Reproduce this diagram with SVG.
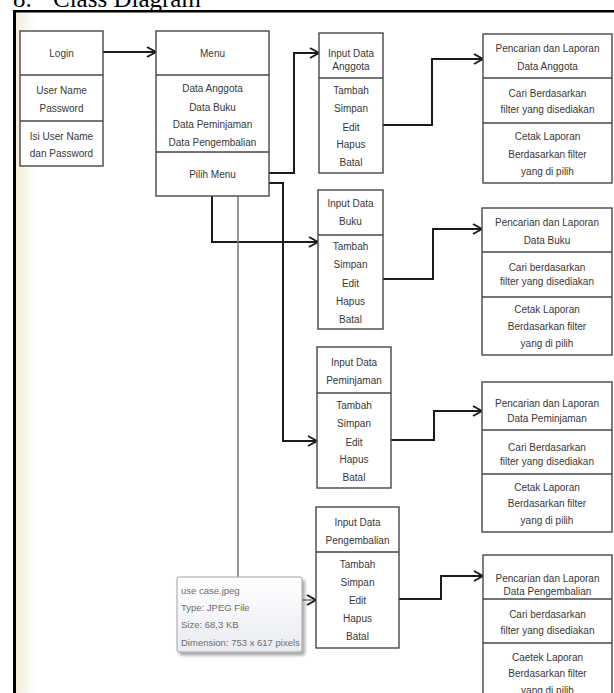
<svg xmlns="http://www.w3.org/2000/svg" width="614" height="693" viewBox="0 0 614 693">
  <defs>
    <style>
      .box { fill: #ffffff; stroke: #474747; stroke-width: 1.4; }
      .div { stroke: #474747; stroke-width: 1.4; }
      .t { font-family: "Liberation Sans", Arial, sans-serif; font-size: 10px; fill: #383838; text-anchor: middle; }
      .tip { font-family: "Liberation Sans", Arial, sans-serif; font-size: 9.5px; fill: #6e6e6e; }
      .title { font-family: "Liberation Serif", "Times New Roman", serif; font-size: 25px; fill: #000000; }
      .c { fill: none; stroke: #1c1c1c; stroke-width: 2; marker-end: url(#arr); }
      .c.gray { stroke: #808080; stroke-width: 1.6; }
    </style>
    <marker id="arr" markerUnits="userSpaceOnUse" markerWidth="12" markerHeight="12" refX="10" refY="6" orient="auto">
      <path d="M1,1 L10,6 L1,11" fill="none" stroke="#1c1c1c" stroke-width="2"/>
    </marker>
    <linearGradient id="cream" x1="0" y1="0" x2="1" y2="0">
      <stop offset="0" stop-color="#f4eed8"/>
      <stop offset="1" stop-color="#ffffff"/>
    </linearGradient>
    <linearGradient id="tipFill" x1="0" y1="0" x2="0" y2="1">
      <stop offset="0" stop-color="#ffffff"/>
      <stop offset="1" stop-color="#e8ebf1"/>
    </linearGradient>
    <filter id="shadow" x="-10%" y="-10%" width="130%" height="140%">
      <feDropShadow dx="2.5" dy="3" stdDeviation="1.6" flood-color="#000000" flood-opacity="0.35"/>
    </filter>
  </defs>

  <rect x="0" y="0" width="614" height="693" fill="#ffffff"/>

  <!-- heading, clipped by the page top -->
  <text class="title" x="13" y="7">8.</text>
  <text class="title" x="53" y="7">Class Diagram</text>

  <!-- page frame with its warm left margin -->
  <rect x="16" y="12" width="20" height="681" fill="url(#cream)"/>
  <line x1="13" y1="11.3" x2="614" y2="11.3" stroke="#000" stroke-width="2.6"/>
  <line x1="14.5" y1="10" x2="14.5" y2="693" stroke="#000" stroke-width="3"/>

  <!-- connectors -->
  <g id="connectors">
    <path class="c" d="M103,52 H156"/>
    <path class="c" d="M269,173 H294 V53 H319"/>
    <path class="c" d="M212,196 V242 H318"/>
    <path class="c" d="M269,183 H283 V441 H317"/>
    <path class="c gray" d="M238,196 V600 H316"/>
    <path class="c" d="M383,125 H432 V59 H483"/>
    <path class="c" d="M383,279 H433 V229 H482"/>
    <path class="c" d="M391,440 H434 V411 H482"/>
    <path class="c" d="M399,599 H441 V576 H483"/>
  </g>

  <g id="login">
    <rect class="box" x="20" y="31" width="83" height="135"/>
    <line class="div" x1="20" y1="75" x2="103" y2="75"/>
    <line class="div" x1="20" y1="121" x2="103" y2="121"/>
    <text class="t" x="61.5" y="56.5">Login</text>
    <text class="t" x="61.5" y="93.5">User Name</text>
    <text class="t" x="61.5" y="111.5">Password</text>
    <text class="t" x="61.5" y="139.5">Isi User Name</text>
    <text class="t" x="61.5" y="156.5">dan Password</text>
  </g>

  <g id="menu">
    <rect class="box" x="156" y="31" width="113" height="165"/>
    <line class="div" x1="156" y1="75" x2="269" y2="75"/>
    <line class="div" x1="156" y1="152" x2="269" y2="152"/>
    <text class="t" x="212.5" y="56.5">Menu</text>
    <text class="t" x="212.5" y="91.5">Data Anggota</text>
    <text class="t" x="212.5" y="110.5">Data Buku</text>
    <text class="t" x="212.5" y="127.5">Data Peminjaman</text>
    <text class="t" x="212.5" y="145.5">Data Pengembalian</text>
    <text class="t" x="212.5" y="177.5">Pilih Menu</text>
  </g>

  <g id="input-anggota">
    <rect class="box" x="319" y="33" width="64" height="140"/>
    <line class="div" x1="319" y1="78" x2="383" y2="78"/>
    <text class="t" x="351" y="56.5">Input Data</text>
    <text class="t" x="351" y="69.5">Anggota</text>
    <text class="t" x="351" y="93.5">Tambah</text>
    <text class="t" x="351" y="111.5">Simpan</text>
    <text class="t" x="351" y="130.5">Edit</text>
    <text class="t" x="351" y="147.5">Hapus</text>
    <text class="t" x="351" y="165.5">Batal</text>
  </g>

  <g id="laporan-anggota">
    <rect class="box" x="483" y="34" width="129" height="149"/>
    <line class="div" x1="483" y1="78" x2="612" y2="78"/>
    <line class="div" x1="483" y1="123" x2="612" y2="123"/>
    <text class="t" x="547.5" y="51.5">Pencarian dan Laporan</text>
    <text class="t" x="547.5" y="69.5">Data Anggota</text>
    <text class="t" x="547.5" y="96.5">Cari Berdasarkan</text>
    <text class="t" x="547.5" y="112.5">filter yang disediakan</text>
    <text class="t" x="547.5" y="139.5">Cetak Laporan</text>
    <text class="t" x="547.5" y="157.5">Berdasarkan filter</text>
    <text class="t" x="547.5" y="174.5">yang di pilih</text>
  </g>

  <g id="input-buku">
    <rect class="box" x="318" y="190" width="65" height="139"/>
    <line class="div" x1="318" y1="235" x2="383" y2="235"/>
    <text class="t" x="350.5" y="206.5">Input Data</text>
    <text class="t" x="350.5" y="224.5">Buku</text>
    <text class="t" x="350.5" y="249.5">Tambah</text>
    <text class="t" x="350.5" y="267.5">Simpan</text>
    <text class="t" x="350.5" y="286.5">Edit</text>
    <text class="t" x="350.5" y="304.5">Hapus</text>
    <text class="t" x="350.5" y="322.5">Batal</text>
  </g>

  <g id="laporan-buku">
    <rect class="box" x="482" y="208" width="130" height="147"/>
    <line class="div" x1="482" y1="252" x2="612" y2="252"/>
    <line class="div" x1="482" y1="297" x2="612" y2="297"/>
    <text class="t" x="547" y="225.5">Pencarian dan Laporan</text>
    <text class="t" x="547" y="243.5">Data Buku</text>
    <text class="t" x="547" y="270.5">Cari berdasarkan</text>
    <text class="t" x="547" y="284.5">filter yang disediakan</text>
    <text class="t" x="547" y="312.5">Cetak Laporan</text>
    <text class="t" x="547" y="329.5">Berdasarkan filter</text>
    <text class="t" x="547" y="346.5">yang di pilih</text>
  </g>

  <g id="input-peminjaman">
    <rect class="box" x="317" y="347" width="74" height="141"/>
    <line class="div" x1="317" y1="393" x2="391" y2="393"/>
    <text class="t" x="354" y="365.5">Input Data</text>
    <text class="t" x="354" y="383.5">Peminjaman</text>
    <text class="t" x="354" y="408.5">Tambah</text>
    <text class="t" x="354" y="426.5">Simpan</text>
    <text class="t" x="354" y="445.5">Edit</text>
    <text class="t" x="354" y="462.5">Hapus</text>
    <text class="t" x="354" y="480.5">Batal</text>
  </g>

  <g id="laporan-peminjaman">
    <rect class="box" x="482" y="382" width="130" height="150"/>
    <line class="div" x1="482" y1="430" x2="612" y2="430"/>
    <line class="div" x1="482" y1="474" x2="612" y2="474"/>
    <text class="t" x="547" y="407">Pencarian dan Laporan</text>
    <text class="t" x="547" y="422">Data Peminjaman</text>
    <text class="t" x="547" y="450.5">Cari Berdasarkan</text>
    <text class="t" x="547" y="464.5">filter yang disediakan</text>
    <text class="t" x="547" y="490.5">Cetak Laporan</text>
    <text class="t" x="547" y="506.5">Berdasarkan filter</text>
    <text class="t" x="547" y="523.5">yang di pilih</text>
  </g>

  <g id="input-pengembalian">
    <rect class="box" x="316" y="507" width="83" height="141"/>
    <line class="div" x1="316" y1="552" x2="399" y2="552"/>
    <text class="t" x="357.5" y="525.5">Input Data</text>
    <text class="t" x="357.5" y="543.5">Pengembalian</text>
    <text class="t" x="357.5" y="567.5">Tambah</text>
    <text class="t" x="357.5" y="585.5">Simpan</text>
    <text class="t" x="357.5" y="603.5">Edit</text>
    <text class="t" x="357.5" y="621.5">Hapus</text>
    <text class="t" x="357.5" y="639.5">Batal</text>
  </g>

  <g id="laporan-pengembalian">
    <rect class="box" x="483" y="555" width="129" height="150"/>
    <line class="div" x1="483" y1="599" x2="612" y2="599"/>
    <line class="div" x1="483" y1="643" x2="612" y2="643"/>
    <text class="t" x="547.5" y="581.5">Pencarian dan Laporan</text>
    <text class="t" x="547.5" y="594.5">Data Pengembalian</text>
    <text class="t" x="547.5" y="617.5">Cari berdasarkan</text>
    <text class="t" x="547.5" y="633.5">filter yang disediakan</text>
    <text class="t" x="547.5" y="660.5">Caetek Laporan</text>
    <text class="t" x="547.5" y="676.5">Berdasarkan filter</text>
    <text class="t" x="547.5" y="693.5">yang di pilih</text>
  </g>

  <!-- file info popup lying over the diagram -->
  <g id="file-tooltip">
    <rect x="177" y="577" width="125" height="75" rx="2" fill="url(#tipFill)" stroke="#a3a3a3" stroke-width="1" filter="url(#shadow)"/>
    <text class="tip" x="181" y="594">use case.jpeg</text>
    <text class="tip" x="181" y="611">Type: JPEG File</text>
    <text class="tip" x="181" y="627.5">Size: 68,3 KB</text>
    <text class="tip" x="181" y="646">Dimension: 753 x 617 pixels</text>
  </g>
</svg>
